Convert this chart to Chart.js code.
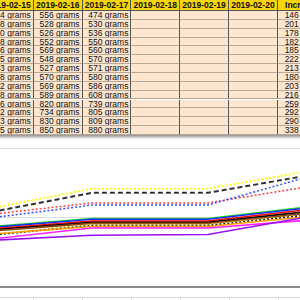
<!DOCTYPE html>
<html>
<head>
<meta charset="utf-8">
<script src="https://cdn.jsdelivr.net/npm/chart.js@4.4.1/dist/chart.umd.min.js"></script>
<style>
  html, body { margin: 0; padding: 0; width: 300px; height: 300px; overflow: hidden; background: #fff; }
  body { position: relative; font-family: "Liberation Sans", Arial, sans-serif; }
  #sheet { position: absolute; left: 0; top: 0; width: 300px; height: 136px; overflow: visible; }
  #tableBox { position: absolute; left: -15px; top: 0; width: 343px; height: 135px; box-shadow: 0 2px 3px rgba(0,0,0,0.45); }
  .cell { position: absolute; box-sizing: border-box; font-size: 8.5px; white-space: nowrap; overflow: hidden; padding: 0 2px; color: #111; }
  .head { background: #f6d60a; font-weight: bold; text-align: center; border-right: 1px solid #555; border-bottom: 1px solid #555; }
  .data { background: #fde6d0; text-align: right; border-right: 1px solid #555; border-bottom: 1px solid #b9a896; }
  #chartBox { position: absolute; left: -24px; top: 140px; width: 348px; height: 160px; }
  #gridRow { position: absolute; left: 0; top: 297px; width: 300px; height: 3px; border-top: 1px solid #d6d6d6; }
  .tick { position: absolute; top: 0; width: 0; height: 3px; border-left: 1px solid #d6d6d6; }
</style>
</head>
<body>
<div id="sheet"><div id="tableBox"></div></div>
<div id="chartBox"><canvas id="weightChart"></canvas></div>
<div id="gridRow"></div>
<script>
// table contents
const dates = ['2019-02-15', '2019-02-16', '2019-02-17', '2019-02-18', '2019-02-19', '2019-02-20'];
const day15 = [584, 528, 540, 568, 566, 545, 563, 578, 572, 588, 696, 612, 773, 705];
const day16 = [556, 528, 526, 552, 569, 548, 527, 570, 569, 589, 820, 734, 830, 850];
const day17 = [474, 530, 536, 550, 560, 570, 571, 580, 586, 608, 739, 805, 809, 880];
const increase = [146, 201, 178, 182, 185, 222, 213, 180, 203, 216, 259, 292, 290, 338];

// chart series
const chartLabels = ['2019-02-14', '2019-02-15', '2019-02-16', '2019-02-17'];
const yellowDotted = [718, 783, 783, 841];
const blackDashed = [707, 771, 771, 829];
const redDotted = [704, 742, 742, 796];
const blueDotted = [693, 736, 736, 830];
const greenLine = [670, 697, 697, 736];
const blueLine = [668, 695, 695, 733];
const redLine = [664, 690, 690, 728];
const blackLine = [661, 686, 686, 722];
const brownLine = [658, 683, 683, 717];
const yellowDotted2 = [646, 680, 680, 713];
const blackDotted2 = [645, 677, 677, 712];
const orangeLine = [649, 674, 674, 707];
const magentaLine = [633, 670, 670, 696];
const purpleLine = [632, 649, 651, 710];

// build the sheet
const box = document.getElementById('tableBox');
const colW = 48.8, headH = 11, rowH = 8.85;
const columns = [day15, day16, day17, [], [], []];

function addCell(cls, x, y, w, h, text) {
    const d = document.createElement('div');
    d.className = 'cell ' + cls;
    d.style.left = x + 'px';
    d.style.top = y + 'px';
    d.style.width = w + 'px';
    d.style.height = h + 'px';
    d.style.lineHeight = h + 'px';
    d.textContent = text;
    box.appendChild(d);
}

dates.forEach((dt, c) => {
    addCell('head', c * colW, 0, colW, headH, dt);
    for (let r = 0; r < 14; r++) {
        const v = columns[c][r];
        addCell('data', c * colW, headH + r * rowH, colW, rowH, v !== undefined ? v + ' grams' : '');
    }
});
addCell('head', 6 * colW, 0, 50, headH, 'Increase');
increase.forEach((v, r) => addCell('data', 6 * colW, headH + r * rowH, 50, rowH, v + ' grams'));

// little cell row under the chart
const gridRow = document.getElementById('gridRow');
[33, 82, 131, 180, 229, 278].forEach(x => {
    const t = document.createElement('div');
    t.className = 'tick';
    t.style.left = x + 'px';
    gridRow.appendChild(t);
});

function series(data, color, dash, width) {
    return {
        data: data,
        borderColor: color,
        borderWidth: width || 1.6,
        borderDash: dash || [],
        pointRadius: 0,
        tension: 0,
        fill: false
    };
}

new Chart(document.getElementById('weightChart'), {
    type: 'line',
    data: {
        labels: chartLabels,
        datasets: [
            series(purpleLine, '#9a10f0'),
            series(magentaLine, '#ff20ff'),
            series(orangeLine, '#ffa000'),
            series(blackDotted2, '#222', [2, 2]),
            series(yellowDotted2, '#e8c000', [2, 2]),
            series(brownLine, '#8b4513'),
            series(blackLine, '#000'),
            series(redLine, '#ff0000'),
            series(blueLine, '#1030ff'),
            series(greenLine, '#22dd22'),
            series(blueDotted, '#3a4dff', [2, 2], 1.5),
            series(redDotted, '#ff4040', [2, 2], 1.5),
            series(blackDashed, '#333', [5, 3], 2),
            series(yellowDotted, '#ffff00', [2, 2], 1.8)
        ]
    },
    options: {
        responsive: true,
        maintainAspectRatio: false,
        animation: false,
        layout: { padding: { top: 8, bottom: 13, left: 0, right: 0 } },
        plugins: { legend: { display: false }, tooltip: { enabled: false } },
        scales: {
            x: {
                offset: false,
                grid: { display: false, drawTicks: false },
                ticks: { display: false },
                border: { display: true, color: '#8c8c8c', width: 2 }
            },
            y: {
                min: 500,
                max: 900,
                ticks: { display: false, stepSize: 200 },
                grid: {
                    drawTicks: false,
                    color: (ctx) => ctx.tick && ctx.tick.value === 500 ? 'rgba(0,0,0,0)' : '#dcdcdc'
                },
                border: { display: false }
            }
        }
    }
});
</script>
</body>
</html>
